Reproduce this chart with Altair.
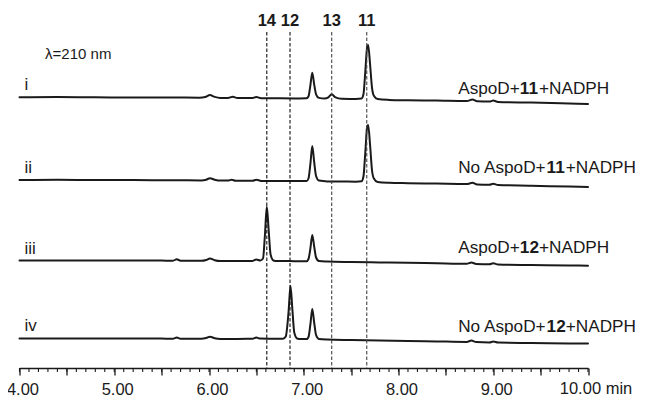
import altair as alt
import pandas as pd

# ---------------- data ----------------
TRACE_NAMES = ["i", "ii", "iii", "iv"]
# vertical stacking offset of each trace (arbitrary absorbance units)
TRACE_OFFSETS = [270.7, 188.0, 107.5, 29.5]

T_I = [4.00, 4.40, 4.80, 5.20, 5.60, 5.90, 5.96, 6.01, 6.06, 6.12, 6.20, 6.25, 6.30, 6.45, 6.50, 6.55,
       6.75, 6.95, 7.03, 7.05, 7.07, 7.09, 7.11, 7.13, 7.16, 7.22, 7.26, 7.295, 7.33, 7.40, 7.55, 7.61,
       7.63, 7.65, 7.67, 7.68, 7.70, 7.72, 7.74, 7.78, 7.90, 8.10, 8.40, 8.72, 8.78, 8.83, 8.96, 9.00,
       9.05, 9.40, 9.80, 10.00]
V_I = [0, 0.3, 0, -0.2, -0.2, -0.4, 0.3, 2.2, 0.4, -0.6, -0.6, 0.5, -0.7, -0.8, 0.2, -0.9,
       -1.0, -1.1, -1.0, 1.0, 12, 24.6, 13, 3, -0.6, -1.3, 0, 3.0, 0.2, -1.5, -1.6, -1.2,
       3, 26, 51, 52.3, 33, 10, 1.5, -1.8, -2.6, -3.0, -3.3, -3.8, -2.3, -4.0, -4.3, -3.3,
       -4.6, -5.3, -6.2, -6.7]

T_II = [4.00, 4.40, 4.80, 5.20, 5.60, 5.92, 5.97, 6.01, 6.06, 6.12, 6.20, 6.24, 6.28, 6.46, 6.50, 6.55,
        6.75, 6.95, 7.03, 7.05, 7.07, 7.09, 7.11, 7.13, 7.16, 7.25, 7.40, 7.55, 7.61, 7.63, 7.65, 7.67,
        7.68, 7.70, 7.72, 7.74, 7.78, 7.90, 8.10, 8.40, 8.72, 8.78, 8.83, 8.96, 9.00, 9.05, 9.40, 9.80,
        10.00]
V_II = [0, 0.2, 0, -0.1, -0.3, -0.4, 0.3, 1.8, 0.3, -0.6, -0.6, 0.3, -0.7, -0.8, 0.3, -0.9,
        -1.0, -1.1, -1.0, 1.5, 16, 34, 18, 4, -0.6, -1.4, -1.5, -1.7, -1.3, 3.5, 28, 54,
        55, 35, 10, 1.5, -2.0, -2.8, -3.2, -3.6, -4.1, -2.8, -4.4, -4.7, -3.8, -5.0, -5.7, -6.6,
        -7.0]

T_III = [4.00, 4.40, 4.80, 5.20, 5.50, 5.62, 5.66, 5.70, 5.92, 5.97, 6.01, 6.06, 6.12, 6.30, 6.46, 6.50,
         6.54, 6.57, 6.59, 6.61, 6.63, 6.65, 6.68, 6.72, 6.85, 6.95, 7.03, 7.05, 7.07, 7.09, 7.11, 7.13,
         7.16, 7.25, 7.50, 7.80, 8.10, 8.40, 8.72, 8.77, 8.82, 8.96, 9.00, 9.05, 9.40, 9.80, 10.00]
V_III = [0, 0.1, 0, 0, -0.1, -0.2, 1.2, -0.2, -0.3, 0.5, 2.0, 0.3, -0.5, -0.5, -0.4, 1.0,
         0, 2, 25, 53.8, 30, 6, 0, -0.6, -0.6, -0.7, -0.7, 1.5, 12, 25.5, 14, 3,
         -0.5, -1.0, -1.5, -1.9, -2.3, -2.8, -3.3, -2.0, -3.5, -3.8, -2.8, -4.0, -4.5, -5.0, -5.2]

T_IV = [4.00, 4.40, 4.80, 5.20, 5.50, 5.62, 5.66, 5.70, 5.92, 5.97, 6.01, 6.06, 6.12, 6.30, 6.46, 6.50,
        6.54, 6.70, 6.78, 6.81, 6.84, 6.86, 6.88, 6.90, 6.93, 6.97, 7.03, 7.05, 7.07, 7.09, 7.11, 7.13,
        7.16, 7.25, 7.50, 7.80, 8.10, 8.40, 8.72, 8.77, 8.82, 8.96, 9.00, 9.05, 9.40, 9.80, 10.00]
V_IV = [0, 0.1, 0, 0, -0.1, -0.2, 1.0, -0.2, -0.3, 0.5, 1.8, 0.3, -0.4, -0.4, -0.3, 1.0,
        -0.1, -0.3, -0.3, 2, 27, 52.8, 29, 6, 0, -0.6, -0.6, 1.5, 14, 29.5, 16, 3.5,
        -0.4, -1.0, -1.5, -2.0, -2.4, -2.9, -3.4, -2.1, -3.6, -3.9, -3.0, -4.1, -4.5, -4.9, -5.1]

TRACE_T = [T_I, T_II, T_III, T_IV]
TRACE_V = [V_I, V_II, V_III, V_IV]

# compound reference lines
MARKER_LABELS = ["14", "12", "13", "11"]
MARKER_T = [6.61, 6.855, 7.295, 7.665]
MARKER_COLORS = ["#111111", "#111111", "#444444", "#444444"]

# sample descriptions: normal prefix, bold compound number, normal suffix
SAMPLE_PREFIX = ["AspoD+", "No AspoD+", "AspoD+", "No AspoD+"]
SAMPLE_NUMBER = ["11", "11", "12", "12"]
SAMPLE_SUFFIX = ["+NADPH", "+NADPH", "+NADPH", "+NADPH"]

MAJOR_TICKS = [4.0, 4.5, 5.0, 5.5, 6.0, 6.5, 7.0, 7.5, 8.0, 8.5, 9.0, 9.5, 10.0]
MINOR_TICKS = [round(4 + 0.1 * k, 1) for k in range(61)]
WAVELENGTH = "\u03bb=210 nm"
UNIT = "min"

# ---------------- layout constants ----------------
FONT = "Liberation Sans"
INK = "#1a1a1a"
W, H = 568.5, 360
X_DOMAIN = [4, 10]
Y_DOMAIN = [0, 360]
PX_PER_MIN = W / (X_DOMAIN[1] - X_DOMAIN[0])

# Arial / Liberation Sans advance widths (per 1000 em)
ADV = {"A": 667, "s": 500, "p": 556, "o": 556, "D": 722, "+": 584, "N": 722, "P": 667,
       "H": 722, " ": 278, "1": 556, "2": 556}


def text_width(s, size):
    return sum(ADV.get(c, 556) for c in s) * size / 1000.0


rows = []
for name, off, ts, vs in zip(TRACE_NAMES, TRACE_OFFSETS, TRACE_T, TRACE_V):
    for t, v in zip(ts, vs):
        rows.append({"trace": name, "t": t, "y": v + off})
df = pd.DataFrame(rows)

xs = alt.Scale(domain=X_DOMAIN, nice=False, zero=False)
ys = alt.Scale(domain=Y_DOMAIN, nice=False, zero=False)
X_AXIS = alt.Axis(values=MAJOR_TICKS, grid=False, domainColor=INK, domainWidth=1.3,
                  tickColor=INK, tickWidth=1.3, tickSize=7, labelFont=FONT,
                  labelFontSize=16.5, labelColor=INK, labelPadding=6, labelOffset=3,
                  labelFlush=False, labelOverlap=False, title=None,
                  labelExpr="(abs(datum.value - round(datum.value)) < 0.001 && datum.value < 9.99) ? format(datum.value, '.2f') : ''")


def X(field="t:Q"):
    return alt.X(field, scale=xs, axis=X_AXIS)


def Y(field="y:Q"):
    return alt.Y(field, scale=ys, axis=None)


lines = alt.Chart(df).mark_line(
    interpolate="monotone", color=INK, strokeWidth=2.0, strokeJoin="round", strokeCap="round"
).encode(x=X(), y=Y(), detail="trace:N")

minor_df = pd.DataFrame({"t": MINOR_TICKS, "y": [-2.0] * len(MINOR_TICKS)})
minor = alt.Chart(minor_df).mark_tick(
    color=INK, size=4, thickness=1.1, orient="vertical", opacity=1
).encode(x=X(), y=Y())

mk_df = pd.DataFrame({"t": MARKER_T, "label": MARKER_LABELS, "color": MARKER_COLORS,
                      "ytop": [336.0] * 4, "ybot": [0.0] * 4, "ylab": [342.5] * 4})
rules = alt.Chart(mk_df).mark_rule(strokeDash=[3.5, 2], strokeWidth=1.1).encode(
    x=X(), y=Y("ytop:Q"), y2="ybot:Q",
    color=alt.Color("color:N", scale=None),
)
mk_text = alt.Chart(mk_df).mark_text(
    font=FONT, fontSize=16.5, fontWeight="bold", color=INK, align="center", baseline="alphabetic"
).encode(x=X(), y=Y("ylab:Q"), text="label:N")

# roman numerals
roman_df = pd.DataFrame({"t": [4.053] * 4, "y": [278, 195, 114, 37], "label": TRACE_NAMES})
roman = alt.Chart(roman_df).mark_text(
    font=FONT, fontSize=17, color=INK, align="left", baseline="alphabetic"
).encode(x=X(), y=Y(), text="label:N")

# sample labels (three runs of text per label)
LABEL_SIZE = 17.2
LABEL_T0 = 8.63
LABEL_Y = [274, 195, 115, 36]
parts = []
for pre, num, suf, yy in zip(SAMPLE_PREFIX, SAMPLE_NUMBER, SAMPLE_SUFFIX, LABEL_Y):
    w1 = text_width(pre, LABEL_SIZE)
    w2 = text_width(num, LABEL_SIZE)
    parts.append({"t": LABEL_T0, "y": yy, "txt": pre, "bold": "normal"})
    parts.append({"t": LABEL_T0 + w1 / PX_PER_MIN, "y": yy, "txt": num, "bold": "bold"})
    parts.append({"t": LABEL_T0 + (w1 + w2) / PX_PER_MIN, "y": yy, "txt": suf, "bold": "normal"})
parts_df = pd.DataFrame(parts)
norm_df = parts_df[parts_df["bold"] == "normal"]
bold_df = parts_df[parts_df["bold"] == "bold"]
lab_norm = alt.Chart(norm_df).mark_text(
    font=FONT, fontSize=LABEL_SIZE, color=INK, align="left", baseline="alphabetic"
).encode(x=X(), y=Y(), text="txt:N")
lab_bold = alt.Chart(bold_df).mark_text(
    font=FONT, fontSize=LABEL_SIZE, fontWeight="bold", color=INK, align="left", baseline="alphabetic"
).encode(x=X(), y=Y(), text="txt:N")

lam = alt.Chart(pd.DataFrame({"t": [4.27], "y": [309], "txt": [WAVELENGTH]})).mark_text(
    font=FONT, fontSize=15, color=INK, align="left", baseline="alphabetic"
).encode(x=X(), y=Y(), text="txt:N")

end_lab = alt.Chart(pd.DataFrame({"t": [10.0], "y": [-26.3], "txt": ["10.00 " + UNIT]})).mark_text(
    font=FONT, fontSize=16.5, color=INK, align="center", baseline="alphabetic", dx=8
).encode(x=X(), y=Y(), text="txt:N")

chart = alt.layer(lines, minor, rules, mk_text, roman, lab_norm, lab_bold, lam, end_lab).properties(
    width=W, height=H,
    background="white",
    autosize=alt.AutoSizeParams(type="none"),
    padding={"left": 11.5, "top": 0, "right": 50, "bottom": 29},
).configure_view(strokeWidth=0, stroke="transparent")

chart.save("out.html", embed_options={"renderer": "svg", "actions": False})
